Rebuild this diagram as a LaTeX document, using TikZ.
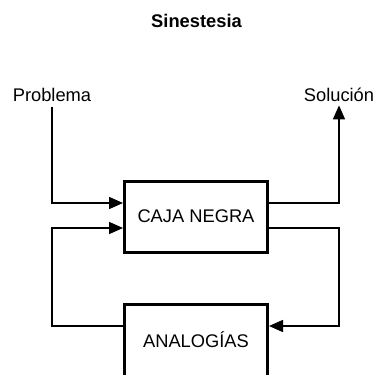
\documentclass[tikz,border=0pt]{standalone}
\usepackage{fontspec}
\setmainfont{Liberation Sans}
\usetikzlibrary{arrows.meta}
\begin{document}
\begin{tikzpicture}[x=1pt,y=-1pt,
  block/.style={draw, line width=3pt, minimum width=143pt, inner sep=0pt,
                font=\fontsize{18.3}{21}\selectfont},
  tag/.style={font=\fontsize{18.3}{21}\selectfont, inner sep=0pt, anchor=base},
  wire/.style={line width=1.6pt},
  tip/.style={-{Triangle[length=14pt,width=12pt]}}]
\useasboundingbox (0,0) rectangle (378,375);

% title
\node[font=\bfseries\fontsize{18.3}{21}\selectfont] (title) at (196.5,21) {Sinestesia};

% blocks
\node[block, minimum height=71pt] (caja) at (196,216.5) {CAJA NEGRA};
\node[block, minimum height=76pt, text depth=0pt] (ana) at (196,342.5)
  {\raisebox{5pt}{ANALOGÍAS}};

% input and output labels
\node[tag] (prob) at (52,101) {Problema};
\node[tag] (sol) at (339,101) {Solución};

% connectors
\draw[wire,tip] ([yshift=-5.5pt]prob.south) |- ([yshift=13.5pt]caja.west);
\draw[wire,tip] ([yshift=16.5pt]ana.west) -- ++(-71,0) |- ([yshift=-11.5pt]caja.west);
\draw[wire,tip] ([yshift=13.5pt]caja.east) -| ([yshift=-4pt]sol.south);
\draw[wire,tip] ([yshift=-11.5pt]caja.east) -- ++(70,0) |- ([yshift=16.5pt]ana.east);
\end{tikzpicture}
\end{document}
